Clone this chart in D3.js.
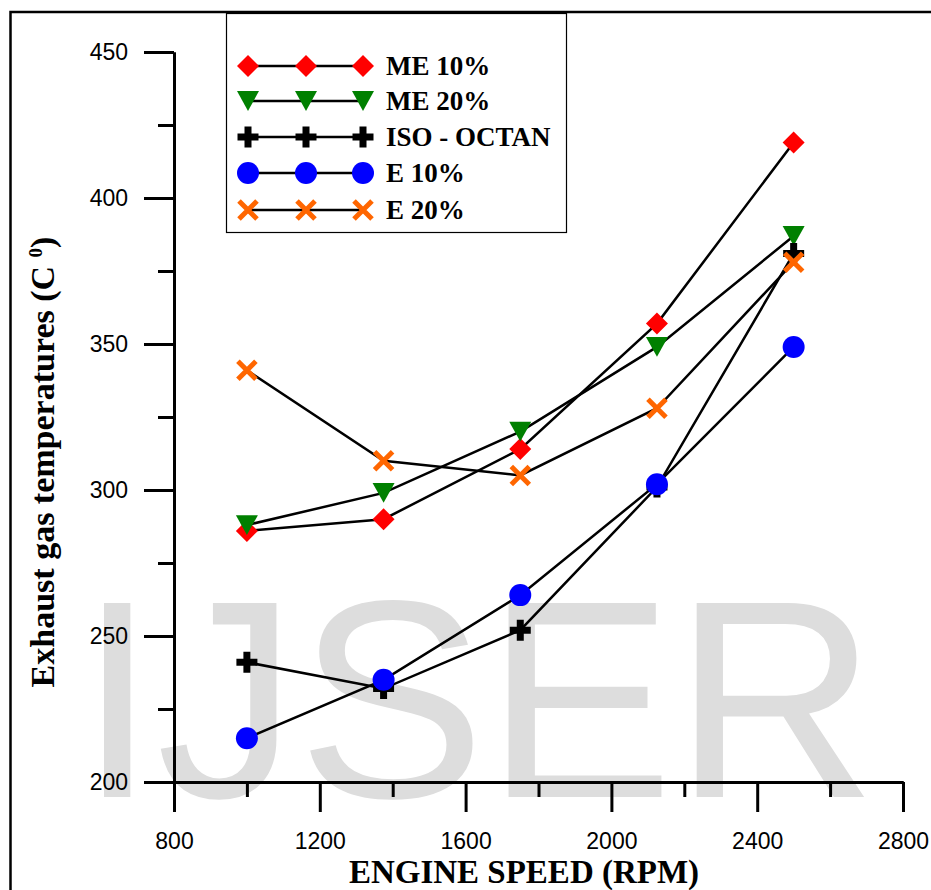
<!DOCTYPE html>
<html>
<head>
<meta charset="utf-8">
<script src="https://cdn.jsdelivr.net/npm/d3@7"></script>
<style>
  body { margin: 0; background: #fff; }
  svg { display: block; }
</style>
</head>
<body>
<div id="main-chart"></div>
<script>
// engine speeds (RPM)
let speeds = [1000, 1375, 1750, 2125, 2500];

// exhaust gas temperatures, one array per fuel
let me10 = [286, 290, 314, 357, 419];
let me20 = [288, 299, 320, 349, 387];
let isoOctan = [241, 232, 252, 301, 381];
let e10 = [215, 235, 264, 302, 349];
let e20 = [341, 310, 305, 328, 378];

let seriesNames = ['ME 10%', 'ME 20%', 'ISO - OCTAN', 'E 10%', 'E 20%'];

let xMajor = [800, 1200, 1600, 2000, 2400, 2800];
let xMinor = [1000, 1400, 1800, 2200, 2600];
let yMajor = [200, 250, 300, 350, 400, 450];
let yMinor = [225, 275, 325, 375, 425];

let W = 931, H = 890;
let plot = {left: 174, right: 903, top: 52, bottom: 782};

// marker shapes
let diamond = {draw(c, s) { let r = Math.sqrt(s) / 2; c.moveTo(0, -r); c.lineTo(r, 0); c.lineTo(0, r); c.lineTo(-r, 0); c.closePath(); }};
let triDown = {draw(c, s) { let r = Math.sqrt(s) / 2; c.moveTo(-r, -r * 0.9); c.lineTo(r, -r * 0.9); c.lineTo(0, r * 0.9); c.closePath(); }};
let plus = {draw(c, s) { let r = Math.sqrt(s) / 2; c.moveTo(-r, 0); c.lineTo(r, 0); c.moveTo(0, -r); c.lineTo(0, r); }};
let cross = {draw(c, s) { let r = Math.sqrt(s) / 2; c.moveTo(-r, -r); c.lineTo(r, r); c.moveTo(r, -r); c.lineTo(-r, r); }};

let series = [
  {name: seriesNames[0], values: me10, type: diamond, size: 484, fill: '#ff0000'},
  {name: seriesNames[1], values: me20, type: triDown, size: 484, fill: '#008000'},
  {name: seriesNames[2], values: isoOctan, type: plus, size: 441, stroke: '#000000', sw: 7},
  {name: seriesNames[3], values: e10, type: d3.symbolCircle, size: Math.PI * 121, fill: '#0000ff'},
  {name: seriesNames[4], values: e20, type: cross, size: 324, stroke: '#ff6600', sw: 5}
];

let x = d3.scaleLinear().domain([800, 2800]).range([plot.left, plot.right]);
let y = d3.scaleLinear().domain([200, 450]).range([plot.bottom, plot.top]);

let svg = d3.select('#main-chart')
  .append('svg')
  .attr('width', W)
  .attr('height', H);

// watermark
svg.append('text')
  .attr('x', 78)
  .attr('y', 797)
  .style('font-family', 'Arial, "Liberation Sans", sans-serif')
  .style('font-size', '282px')
  .style('fill', '#dddddd')
  .text('IJSER');

// frame (top and left)
svg.append('path')
  .attr('d', `M10.5,${H} L10.5,12 L${W},12`)
  .attr('fill', 'none')
  .attr('stroke', '#000')
  .attr('stroke-width', 2.5);

// axes
function styleAxis(g) {
  g.selectAll('path.domain').attr('stroke-width', 3);
  g.selectAll('.tick line').attr('stroke-width', 3);
  g.selectAll('text')
    .style('font-family', 'Arial, "Liberation Sans", sans-serif')
    .style('font-size', '23px')
    .attr('fill', '#000');
}

svg.append('g')
  .attr('transform', `translate(${plot.left},0)`)
  .call(d3.axisLeft(y).tickValues(yMinor).tickSize(16).tickSizeOuter(0).tickFormat(''))
  .call(styleAxis);
svg.append('g')
  .attr('transform', `translate(${plot.left},0)`)
  .call(d3.axisLeft(y).tickValues(yMajor).tickSize(30).tickSizeOuter(0).tickPadding(16).tickFormat(d3.format('d')))
  .call(styleAxis);

svg.append('g')
  .attr('transform', `translate(0,${plot.bottom})`)
  .call(d3.axisBottom(x).tickValues(xMinor).tickSize(15).tickSizeOuter(0).tickFormat(''))
  .call(styleAxis);
svg.append('g')
  .attr('transform', `translate(0,${plot.bottom})`)
  .call(d3.axisBottom(x).tickValues(xMajor).tickSize(30).tickSizeOuter(0).tickPadding(21).tickFormat(d3.format('d')))
  .call(styleAxis);

// axis titles
svg.append('text')
  .attr('x', 524)
  .attr('y', 883)
  .attr('text-anchor', 'middle')
  .style('font-family', '"Times New Roman", "Liberation Serif", serif')
  .style('font-weight', 'bold')
  .style('font-size', '33px')
  .text('ENGINE SPEED (RPM)');

let yTitle = svg.append('text')
  .attr('transform', 'translate(54,462) rotate(-90)')
  .attr('text-anchor', 'middle')
  .style('font-family', '"Times New Roman", "Liberation Serif", serif')
  .style('font-weight', 'bold')
  .style('font-size', '34px');
yTitle.append('tspan').text('Exhaust gas temperatures (C ');
yTitle.append('tspan').attr('dy', -12).style('font-size', '19px').text('0');
yTitle.append('tspan').attr('dy', 12).text(')');

// data lines and markers
let line = d3.line()
  .x((d, i) => x(speeds[i]))
  .y(d => y(d));

function drawMarkers(g, s, pts) {
  g.selectAll('path.marker')
    .data(pts)
    .join('path')
    .attr('class', 'marker')
    .attr('transform', d => `translate(${d[0]},${d[1]})`)
    .attr('d', d3.symbol().type(s.type).size(s.size))
    .attr('fill', s.fill ? s.fill : 'none')
    .attr('stroke', s.stroke ? s.stroke : 'none')
    .attr('stroke-width', s.sw ? s.sw : 0);
}

series.forEach(s => {
  let g = svg.append('g').attr('class', 'series');
  g.append('path')
    .datum(s.values)
    .attr('d', line)
    .attr('fill', 'none')
    .attr('stroke', '#000')
    .attr('stroke-width', 2.5);
  drawMarkers(g, s, s.values.map((v, i) => [x(speeds[i]), y(v)]));
});

// legend
let legend = svg.append('g');
legend.append('rect')
  .attr('x', 226.5).attr('y', 13.5)
  .attr('width', 340).attr('height', 219)
  .attr('fill', '#fff')
  .attr('stroke', '#000')
  .attr('stroke-width', 1.2);

let legendY = [66, 101, 137, 173, 210];
let legendX = [248, 306, 363];
series.forEach((s, i) => {
  let g = legend.append('g');
  g.append('line')
    .attr('x1', legendX[0]).attr('x2', legendX[2])
    .attr('y1', legendY[i]).attr('y2', legendY[i])
    .attr('stroke', '#000')
    .attr('stroke-width', 2.5);
  drawMarkers(g, s, legendX.map(lx => [lx, legendY[i]]));
  g.append('text')
    .attr('x', 386)
    .attr('y', legendY[i] + 9)
    .style('font-family', '"Times New Roman", "Liberation Serif", serif')
    .style('font-weight', 'bold')
    .style('font-size', '27px')
    .text(s.name);
});
</script>
</body>
</html>
